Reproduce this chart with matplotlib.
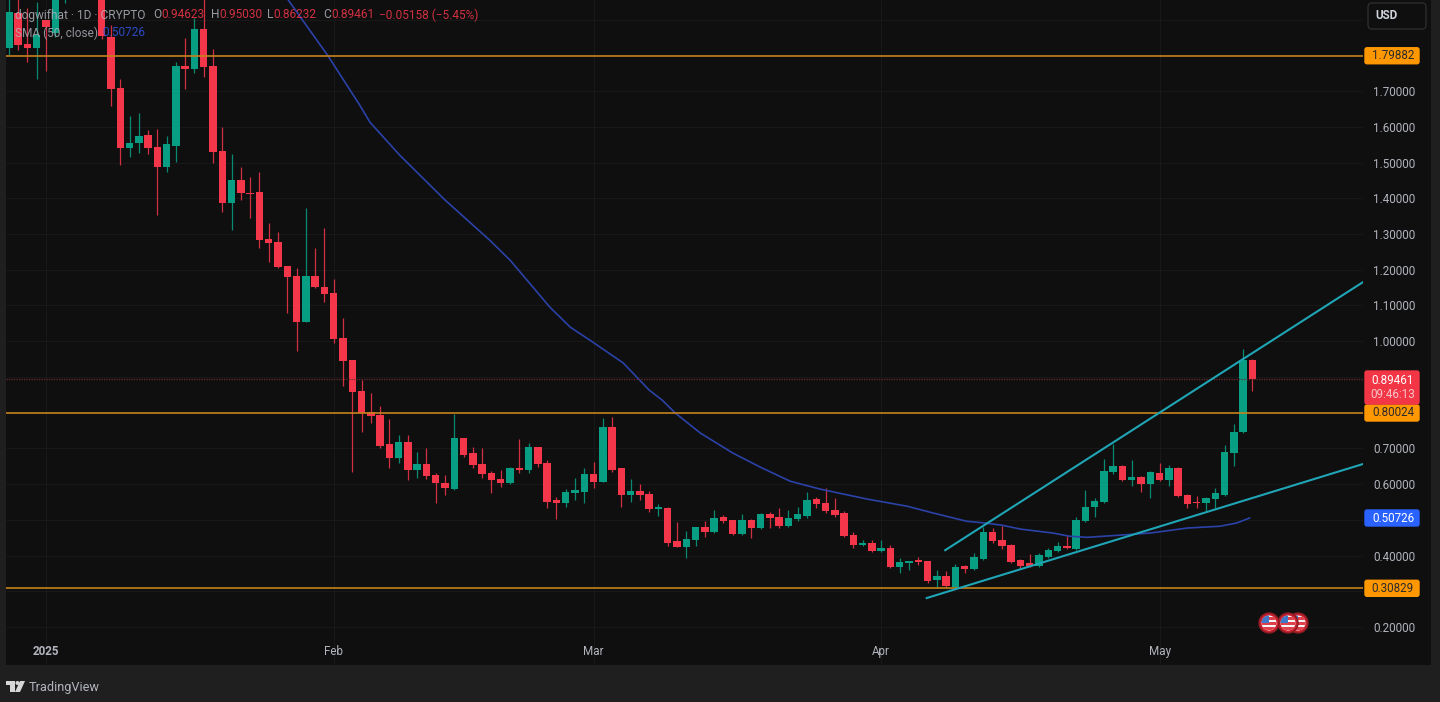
import numpy as np
import matplotlib
matplotlib.use("Agg")
import matplotlib.pyplot as plt
from matplotlib.patches import Circle, FancyBboxPatch, Polygon, Rectangle

plt.rcParams["font.family"] = ["Roboto", "DejaVu Sans"]

# daily candles, day 0 = 1 Jan 2025
days = np.arange(-4, 131)
opens = [1.821, 1.919, 1.832, 1.821, 1.900, 1.863, 2.050, 2.120, 2.080, 2.060, 2.020,
         1.851, 1.709, 1.541, 1.555, 1.577, 1.543, 1.487, 1.546, 1.770, 1.762, 1.874,
         1.770, 1.532, 1.387, 1.451, 1.415, 1.417, 1.286, 1.277, 1.210, 1.182, 1.053,
         1.182, 1.151, 1.135, 1.009, 0.947, 0.860, 0.801, 0.793, 0.712, 0.673, 0.717,
         0.639, 0.656, 0.625, 0.603, 0.586, 0.729, 0.687, 0.656, 0.631, 0.614, 0.603,
         0.645, 0.639, 0.703, 0.659, 0.555, 0.547, 0.575, 0.577, 0.628, 0.605, 0.759,
         0.645, 0.569, 0.580, 0.572, 0.530, 0.533, 0.440, 0.423, 0.443, 0.479, 0.465,
         0.507, 0.499, 0.460, 0.499, 0.477, 0.516, 0.507, 0.482, 0.502, 0.510, 0.558,
         0.547, 0.527, 0.519, 0.457, 0.429, 0.435, 0.412, 0.421, 0.367, 0.379, 0.387,
         0.384, 0.331, 0.342, 0.311, 0.370, 0.362, 0.390, 0.465, 0.443, 0.429, 0.387,
         0.379, 0.370, 0.395, 0.412, 0.426, 0.418, 0.496, 0.535, 0.549, 0.633, 0.650,
         0.611, 0.619, 0.600, 0.631, 0.611, 0.645, 0.569, 0.549, 0.547, 0.558, 0.569,
         0.687, 0.745, 0.946]
highs = [2.010, 1.960, 1.933, 1.949, 1.900, 2.050, 2.150, 2.140, 2.110, 2.090, 2.060,
         1.885, 1.734, 1.630, 1.639, 1.591, 1.594, 1.574, 1.781, 1.849, 1.905, 1.970,
         1.818, 1.599, 1.524, 1.487, 1.459, 1.473, 1.331, 1.305, 1.210, 1.205, 1.373,
         1.261, 1.317, 1.174, 1.065, 0.947, 0.891, 0.855, 0.818, 0.782, 0.737, 0.737,
         0.689, 0.701, 0.631, 0.625, 0.796, 0.729, 0.703, 0.701, 0.636, 0.639, 0.647,
         0.726, 0.715, 0.703, 0.667, 0.563, 0.586, 0.617, 0.645, 0.661, 0.785, 0.787,
         0.645, 0.614, 0.600, 0.580, 0.544, 0.535, 0.493, 0.468, 0.479, 0.496, 0.527,
         0.513, 0.499, 0.516, 0.502, 0.519, 0.521, 0.533, 0.527, 0.535, 0.577, 0.563,
         0.589, 0.561, 0.524, 0.465, 0.443, 0.443, 0.443, 0.429, 0.393, 0.384, 0.395,
         0.384, 0.359, 0.356, 0.376, 0.373, 0.407, 0.479, 0.477, 0.482, 0.432, 0.390,
         0.404, 0.407, 0.421, 0.437, 0.454, 0.507, 0.583, 0.561, 0.670, 0.712, 0.653,
         0.667, 0.622, 0.636, 0.659, 0.653, 0.647, 0.572, 0.566, 0.563, 0.589, 0.709,
         0.768, 0.978, 0.950]
lows = [1.801, 1.815, 1.781, 1.734, 1.756, 1.850, 1.947, 2.040, 2.010, 1.980, 1.846,
        1.658, 1.493, 1.515, 1.527, 1.524, 1.353, 1.473, 1.501, 1.706, 1.751, 1.739,
        1.499, 1.361, 1.311, 1.395, 1.345, 1.261, 1.221, 1.205, 1.079, 0.972, 1.053,
        1.149, 1.109, 0.995, 0.874, 0.633, 0.745, 0.771, 0.701, 0.645, 0.659, 0.611,
        0.617, 0.614, 0.547, 0.569, 0.583, 0.675, 0.645, 0.617, 0.575, 0.591, 0.600,
        0.631, 0.631, 0.647, 0.533, 0.502, 0.535, 0.555, 0.547, 0.589, 0.605, 0.633,
        0.535, 0.549, 0.555, 0.521, 0.510, 0.426, 0.423, 0.393, 0.426, 0.451, 0.463,
        0.491, 0.457, 0.457, 0.449, 0.474, 0.477, 0.477, 0.479, 0.496, 0.505, 0.533,
        0.519, 0.507, 0.451, 0.421, 0.426, 0.409, 0.409, 0.365, 0.351, 0.359, 0.373,
        0.323, 0.309, 0.311, 0.309, 0.351, 0.359, 0.387, 0.435, 0.418, 0.379, 0.365,
        0.367, 0.367, 0.393, 0.409, 0.418, 0.415, 0.493, 0.507, 0.547, 0.628, 0.608,
        0.594, 0.577, 0.561, 0.608, 0.594, 0.563, 0.533, 0.533, 0.524, 0.533, 0.566,
        0.650, 0.743, 0.860]
closes = [1.921, 1.829, 1.821, 1.857, 1.880, 2.000, 2.100, 2.080, 2.060, 2.020, 1.854,
          1.706, 1.541, 1.555, 1.574, 1.541, 1.487, 1.552, 1.770, 1.762, 1.874, 1.767,
          1.529, 1.387, 1.451, 1.415, 1.412, 1.283, 1.275, 1.207, 1.179, 1.053, 1.182,
          1.151, 1.132, 1.006, 0.944, 0.857, 0.799, 0.790, 0.706, 0.673, 0.717, 0.639,
          0.656, 0.622, 0.603, 0.589, 0.729, 0.681, 0.653, 0.628, 0.611, 0.603, 0.645,
          0.639, 0.703, 0.656, 0.549, 0.547, 0.577, 0.583, 0.628, 0.605, 0.759, 0.639,
          0.569, 0.580, 0.569, 0.530, 0.535, 0.435, 0.423, 0.446, 0.479, 0.465, 0.505,
          0.496, 0.460, 0.499, 0.477, 0.516, 0.505, 0.482, 0.505, 0.516, 0.555, 0.544,
          0.524, 0.513, 0.454, 0.429, 0.435, 0.412, 0.421, 0.367, 0.381, 0.384, 0.381,
          0.328, 0.342, 0.314, 0.367, 0.362, 0.395, 0.465, 0.440, 0.426, 0.381, 0.370,
          0.370, 0.401, 0.415, 0.426, 0.421, 0.499, 0.535, 0.552, 0.636, 0.650, 0.611,
          0.619, 0.600, 0.633, 0.611, 0.645, 0.566, 0.544, 0.547, 0.561, 0.575, 0.689,
          0.745, 0.946, 0.895]

sma_days = [26.1, 30.4, 33.8, 34.9, 38.1, 43.0, 47.8, 50.0, 54.3, 56.5, 58.6, 62.2, 65.0,
            66.4, 67.8, 70.5, 74.0, 77.0, 80.2, 83.4, 88.5, 92.8, 95.6, 99.2, 101.2, 103.0,
            105.0, 108.5, 110.3, 112.2, 115.7, 119.0, 123.0, 126.5, 128.3, 129.7]
sma_values = [1.955, 1.798, 1.661, 1.613, 1.521, 1.395, 1.283, 1.227, 1.095, 1.039, 1.003,
              0.939, 0.863, 0.835, 0.799, 0.743, 0.687, 0.647, 0.608, 0.586, 0.558, 0.538,
              0.519, 0.496, 0.491, 0.485, 0.474, 0.463, 0.454, 0.451, 0.457, 0.463, 0.477,
              0.482, 0.491, 0.505]

levels = [1.79882, 0.80024, 0.30829]
last_price = 0.89461
upper_days = [96.9, 141.9]
upper_prices = [0.415, 1.165]
lower_days = [94.9, 141.9]
lower_prices = [0.281, 0.656]

price_ticks = [0.2, 0.4, 0.6, 0.7, 1.0, 1.1, 1.2, 1.3, 1.4, 1.5, 1.6, 1.7]
grid_prices = np.arange(0.2, 1.95, 0.1)
month_days = [0, 31, 59, 90, 120]
month_labels = ["2025", "Feb", "Mar", "Apr", "May"]

GREEN = "#089e84"
RED = "#f4364a"
ORANGE = "#c5821c"
PANE = "#0f0f0f"
CHROME = "#1f1f1f"
GRAY = "#b2b5be"
W, H = 1440, 702


def price_y(p):
    return 627 - (p - 0.2) * 357.3


fig = plt.figure(figsize=(W / 100, H / 100), dpi=100, facecolor=CHROME)

# price pane runs x 6..1363, y 0..665 in picture pixels
ax = fig.add_axes([6 / W, 1 - 665 / H, 1357 / W, 665 / H], facecolor=PANE)
ax.set_xlim((6 - 46) / 9.28, (1363 - 46) / 9.28)
ax.set_ylim(0.2 - 38 / 357.3, 0.2 + 627 / 357.3)
for s in ax.spines.values():
    s.set_visible(False)

ax.hlines(grid_prices, ax.get_xlim()[0], ax.get_xlim()[1], color="#181818", lw=0.8, zorder=1)
ax.vlines(month_days, *ax.get_ylim(), color="#181818", lw=0.8, zorder=1)

o = np.array(opens)
c = np.array(closes)
colors = [GREEN if b >= a else RED for a, b in zip(o, c)]
ax.vlines(days, lows, highs, color=colors, lw=0.9, alpha=0.85, zorder=2)
ax.bar(days, np.maximum(np.abs(c - o), 0.004), bottom=np.minimum(o, c), width=0.8,
       color=colors, linewidth=0, zorder=3)

ax.plot(sma_days, sma_values, color="#2b42a8", lw=1.2, zorder=4)
ax.axhline(last_price, color="#6e2a30", lw=0.9, ls=(0, (1, 1)), zorder=4)
for lv in levels:
    ax.axhline(lv, color=ORANGE, lw=1.2, zorder=5)
ax.plot(upper_days, upper_prices, color="#1fa5b5", lw=1.5, zorder=6)
ax.plot(lower_days, lower_prices, color="#1fa5b5", lw=1.5, zorder=6)

ax.yaxis.tick_right()
ax.set_yticks(price_ticks)
ax.set_yticklabels([f"{p:.5f}" for p in price_ticks], color=GRAY, fontsize=8.4)
ax.tick_params(axis="y", length=0, pad=7.5)
ax.set_xticks(month_days)
ax.set_xticklabels(month_labels, color=GRAY, fontsize=8.4)
ax.get_xticklabels()[0].set_fontweight("bold")
ax.tick_params(axis="x", length=0, direction="in", pad=-14.4)

# everything outside the plot is laid out in picture pixels
ui = fig.add_axes([0, 0, 1, 1], facecolor="none", zorder=-1)
ui.set_xlim(0, W)
ui.set_ylim(H, 0)
ui.axis("off")
ui.add_patch(Rectangle((1363, 0), 68, 665, color=PANE, lw=0))

top = fig.add_axes([0, 0, 1, 1], facecolor="none", zorder=5)
top.set_xlim(0, W)
top.set_ylim(H, 0)
top.axis("off")


def tag(y0, y1, color, rows):
    top.add_patch(FancyBboxPatch((1365, y0 + 1), 54, y1 - y0 - 2, boxstyle="round,pad=0,rounding_size=2",
                                 fc=color, ec=color, lw=1))
    for yy, text, tc in rows:
        top.text(1393, yy, text, color=tc, fontsize=8.4, ha="center", va="center")


for lv in [levels[0], levels[2]]:
    y = price_y(lv)
    tag(y - 9, y + 9, "#ff9800", [(y, f"{lv:.5f}", "#2a2a2a")])
tag(404, 422, "#ff9800", [(413, f"{levels[1]:.5f}", "#2a2a2a")])
tag(370, 405, "#f23645", [(380, f"{last_price:.5f}", "#ffffff"), (395, "09:46:13", "#f7c4c9")])
tag(509, 527, "#2962ff", [(518, "0.50726", "#ffffff")])

top.add_patch(FancyBboxPatch((1368, 3), 58, 26, boxstyle="round,pad=0,rounding_size=4",
                             fc=PANE, ec="#2c2c2c", lw=1))
top.text(1386, 15.5, "USD", color="#d1d4dc", fontsize=8.4, fontweight="bold", ha="center", va="center")

# legend rows over the candles
hdr = [(15, "dogwifhat · 1D · CRYPTO", GRAY), (153, "O", GRAY), (161, "0.94623", RED),
       (211, "H", GRAY), (219, "0.95030", RED), (267, "L", GRAY), (273, "0.86232", RED),
       (323, "C", GRAY), (331, "0.89461", RED), (379, "−0.05158 (−5.45%)", RED)]
for x, text, col in hdr:
    top.text(x, 15, text, color=col, fontsize=8.6, va="center", alpha=0.85)
top.text(15, 33, "SMA (50, close)", color=GRAY, fontsize=8.6, va="center", alpha=0.8)
top.text(102, 33, "0.50726", color="#2e50d8", fontsize=8.6, va="center", alpha=0.9)


def flag(cx, cy):
    ring = Circle((cx, cy), 10, fc="#c8202c", ec="#8a1c24", lw=1)
    top.add_patch(ring)
    face = Circle((cx, cy), 7.5, fc="#f5f5f5", lw=0)
    top.add_patch(face)
    for k in range(3):
        st = Rectangle((cx - 8, cy - 6 + k * 5), 16, 2.6, fc="#e0404a", lw=0)
        top.add_patch(st)
        st.set_clip_path(face)
    cant = Rectangle((cx - 8, cy - 8), 8, 8, fc="#3f78c8", lw=0)
    top.add_patch(cant)
    cant.set_clip_path(face)


flag(1298, 623)
flag(1288, 623)
flag(1269, 623)

# footer logo and name
logo = "#d6d6d6"
top.add_patch(Polygon([(6, 681), (15, 681), (15, 692), (10, 692), (10, 685), (6, 685)], fc=logo, lw=0))
top.add_patch(Circle((17.5, 683), 2, fc=logo, lw=0))
top.add_patch(Polygon([(20, 681), (25, 681), (20, 692), (15, 692)], fc=logo, lw=0))
top.text(29, 687, "TradingView", color=GRAY, fontsize=9.2, va="center")

fig.savefig("out.png", dpi=100, facecolor=CHROME)
plt.close(fig)
